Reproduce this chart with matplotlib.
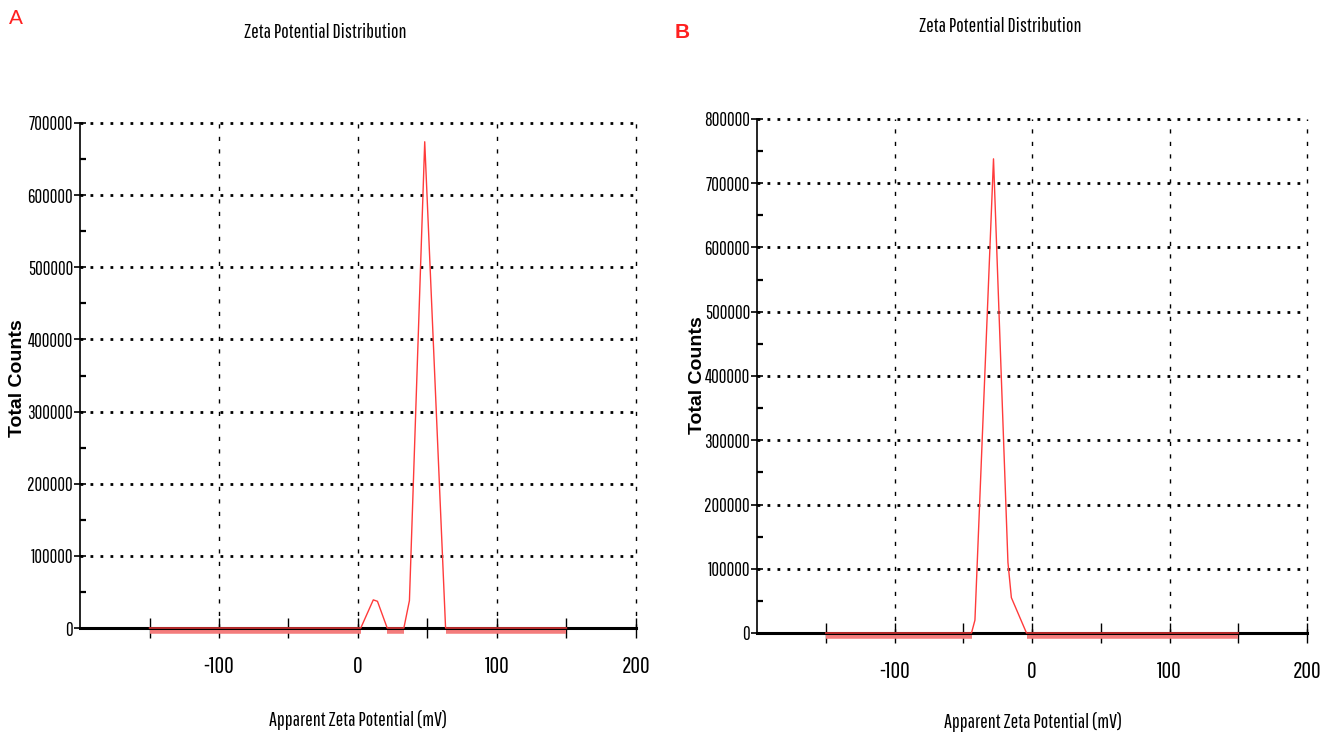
"""
Zeta potential distribution of two samples (A and B), side by side
"""
import numpy as np
import matplotlib
matplotlib.use('Agg')
import matplotlib.pyplot as plt
import matplotlib.transforms as mtrans
from matplotlib.ticker import MultipleLocator, FixedLocator

narrow = ['Pathway Gothic One', 'Fira Sans Extra Condensed', 'DejaVu Sans']
plt.rcParams['font.family'] = narrow

# sample A : apparent zeta potential (mV) and total counts
zeta_a = [-150, 2, 11, 14, 21, 33, 37, 48, 63, 150]
counts_a = [0, 0, 39000, 37000, 0, 0, 38000, 674000, 0, 0]

# sample B
zeta_b = [-150, -44, -41.5, -28, -17.5, -15, -4, 150]
counts_b = [0, 0, 20000, 738000, 110000, 55000, 0, 0]

x_major = [-100, 0, 100, 200]
x_minor = [-150, -50, 50, 150]

title = 'Zeta Potential Distribution'
xlabel = 'Apparent Zeta Potential (mV)'
ylabel = 'Total Counts'


def draw_panel(fig, rect, zeta, counts, ymax):
    ax = fig.add_axes(rect)
    ax.set_xlim(-200, 200)
    ax.set_ylim(0, ymax)

    # grid : dashed verticals, dotted horizontals
    for xv in x_major:
        ax.axvline(xv, color='k', lw=1.0, ls=(0, (3, 6)), zorder=1, clip_on=False)
    for yv in np.arange(100000, ymax + 1, 100000):
        ax.axhline(yv, color='k', lw=2.0, ls=(0, (1, 2.6)), zorder=1, clip_on=False)

    # thick pink baseline where counts are zero, slightly under the axis
    zeta = np.array(zeta, dtype=float)
    counts = np.array(counts, dtype=float)
    base = np.where(counts == 0, 0.0, np.nan)
    off = ax.transData + mtrans.ScaledTranslation(0, -2.5 / 72, fig.dpi_scale_trans)
    ax.plot(zeta, base, color='#f47c7c', lw=4, solid_capstyle='butt',
            transform=off, clip_on=False, zorder=2)
    ax.plot(zeta, counts, color='#ff3b3b', lw=1.0, clip_on=False, zorder=4)

    for s in ['top', 'right']:
        ax.spines[s].set_visible(False)
    ax.spines['bottom'].set_position(('data', 0))
    ax.spines['bottom'].set_linewidth(2.2)
    ax.spines['bottom'].set_zorder(3)
    ax.spines['left'].set_linewidth(1.2)

    ax.xaxis.set_major_locator(FixedLocator(x_major))
    ax.xaxis.set_minor_locator(FixedLocator(x_minor))
    ax.yaxis.set_major_locator(MultipleLocator(100000))
    ax.yaxis.set_minor_locator(MultipleLocator(50000))
    ax.tick_params(axis='x', which='both', direction='inout', length=14, width=1.0,
                   pad=13, labelsize=17)
    ax.tick_params(axis='y', which='major', direction='inout', length=8, width=1.2,
                   pad=1, labelsize=13.5)
    ax.tick_params(axis='y', which='minor', direction='in', length=4, width=1.6)
    ax.set_xticklabels(['-100', '0', '100', '200'])
    ax.set_yticklabels(['%d' % v for v in ax.get_yticks()])
    ax.patch.set_alpha(0)
    return ax


fig = plt.figure(figsize=(13.33, 7.43), dpi=100)

ax_a = draw_panel(fig, [80 / 1333, 115 / 743, 556 / 1333, 505 / 743], zeta_a, counts_a, 700000)
ax_b = draw_panel(fig, [757 / 1333, 110 / 743, 550 / 1333, 514 / 743], zeta_b, counts_b, 800000)

# titles, axis labels and panel letters
fig.text(325 / 1333, 1 - 32 / 743, title, ha='center', va='center', fontsize=14.5)
fig.text(1000 / 1333, 1 - 26 / 743, title, ha='center', va='center', fontsize=14.5)
fig.text(358 / 1333, 1 - 720 / 743, xlabel, ha='center', va='center', fontsize=14.5)
fig.text(1033 / 1333, 1 - 722 / 743, xlabel, ha='center', va='center', fontsize=14.5)
fig.text(18 / 1333, 1 - 378 / 743, ylabel, ha='center', va='center', rotation=90,
         fontsize=14, fontweight='bold', family=['Liberation Sans', 'DejaVu Sans'])
fig.text(697 / 1333, 1 - 375 / 743, ylabel, ha='center', va='center', rotation=90,
         fontsize=14, fontweight='bold', family=['Liberation Sans', 'DejaVu Sans'])
fig.text(16 / 1333, 1 - 18 / 743, 'A', color='#ff2020', ha='center', va='center',
         fontsize=15, family=['Liberation Sans', 'DejaVu Sans'])
fig.text(682 / 1333, 1 - 32 / 743, 'B', color='#ff2020', ha='center', va='center',
         fontsize=15, fontweight='bold', family=['Liberation Sans', 'DejaVu Sans'])

fig.savefig('out.png', dpi=100)
